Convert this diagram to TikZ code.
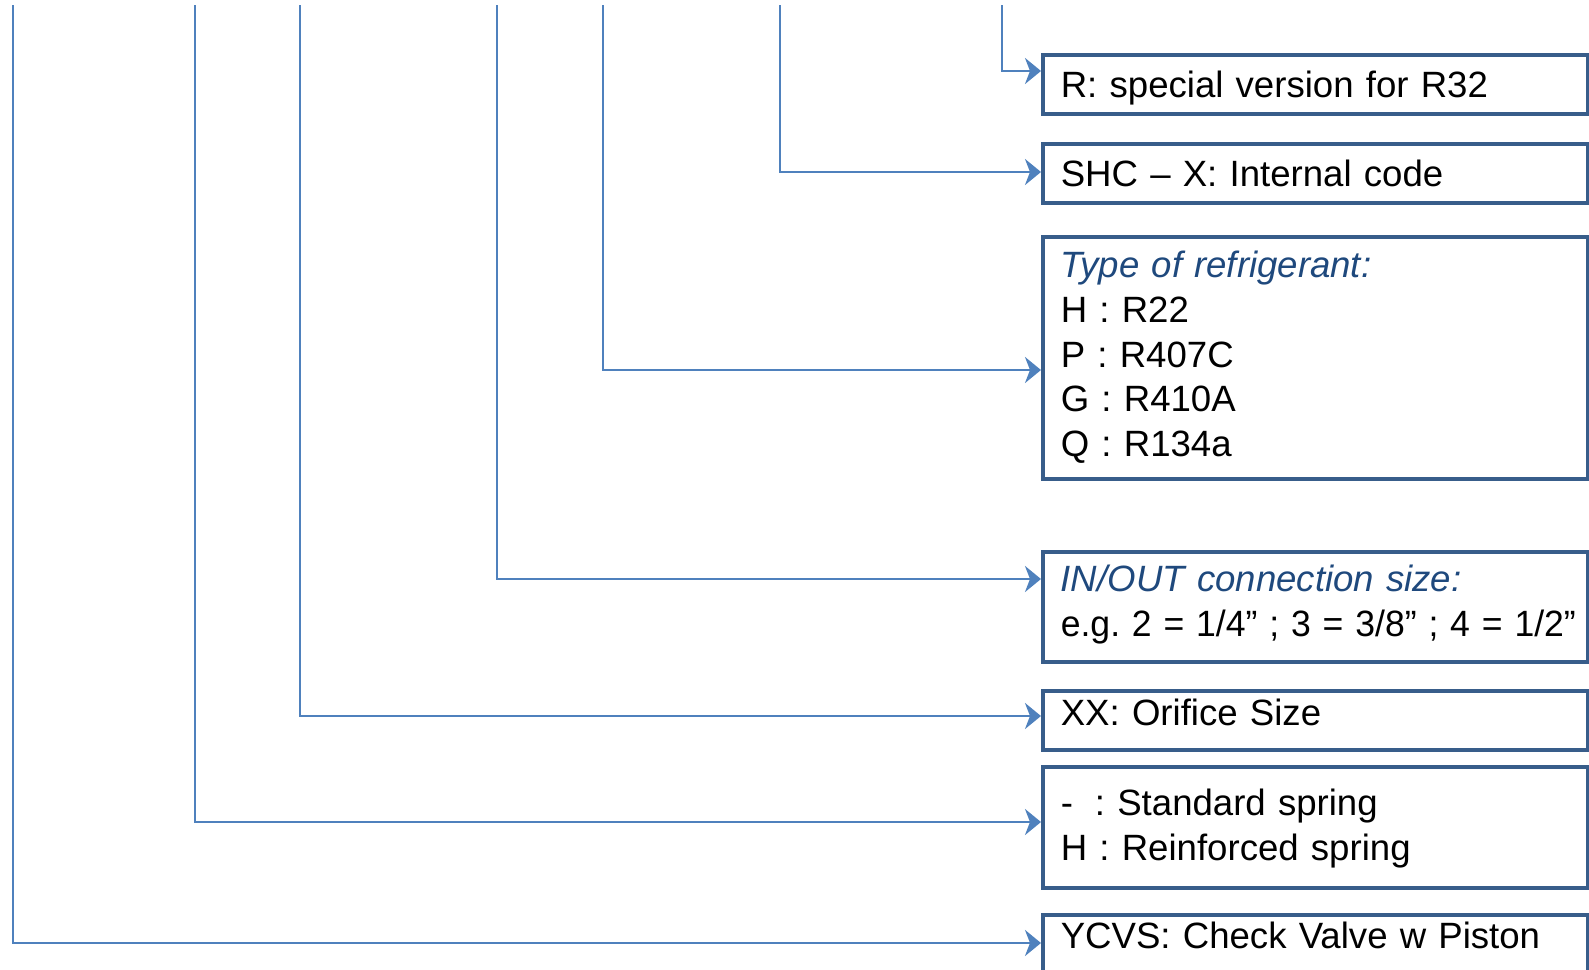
\documentclass[tikz,border=0pt]{standalone}
\usepackage{fontspec}
\setmainfont{Liberation Sans}
\usepackage{xcolor}
\usepackage{graphicx}
\usetikzlibrary{arrows.meta,positioning,calc}
\definecolor{lineblue}{HTML}{4F81BD}
\definecolor{boxblue}{HTML}{385D8A}
\definecolor{headblue}{HTML}{1F497D}
\newcommand{\cathead}[1]{{\color{headblue}\itshape #1}}
\frenchspacing
\tikzset{
    codebox/.style={draw=boxblue, line width=1.8pt, rectangle, anchor=north west,
        text width=254.5pt, inner xsep=9pt, inner ysep=0pt, align=left,
        text height=13.2pt, text depth=0pt, font=\fontsize{18.3}{22.3}\selectfont},
    conn/.style={draw=lineblue, line width=1.35pt, -{Stealth[length=8pt,width=13pt,inset=2.5pt]}}
}

\begin{document}
\begin{tikzpicture}[x=0.5pt, y=-0.5pt]
    \useasboundingbox (0,0) rectangle (1589,969);
    \clip (0,0) rectangle (1589,969);
    % code boxes
    \node[codebox, minimum height=29.5pt] (r32) at (1041,53) {R: special version for R32};
    \node[codebox, minimum height=29.5pt] (shc) at (1041,142) {SHC – X: Internal code};
    \node[codebox, minimum height=121pt, text depth=93.2pt] (refrig) at (1041,235)
        {\cathead{Type of refrigerant:}\\ H : R22\\ P : R407C\\ G : R410A\\ Q : R134a};
    \node[codebox, minimum height=55pt, text depth=28.3pt] (iosize) at (1041,550)
        {\cathead{IN/OUT connection size:}\\ \resizebox{257.5pt}{\height}{e.g. 2 = 1/4” ; 3 = 3/8” ; 4 = 1/2”}};
    \node[codebox, minimum height=29.5pt, text depth=8.5pt] (orifice) at (1041,689) {XX: Orifice Size};
    \node[codebox, minimum height=60.5pt, text depth=24.8pt] (spring) at (1041,765)
        {-\hspace{0.6em}: Standard spring\\ H : Reinforced spring};
    \node[codebox, text height=17pt, text depth=40pt] (ycvs) at (1041,913) {YCVS: Check Valve w Piston};
    % line tops
    \coordinate (top1) at (1002,5);
    \coordinate (top2) at (780,5);
    \coordinate (top3) at (603,5);
    \coordinate (top4) at (497,5);
    \coordinate (top5) at (300,5);
    \coordinate (top6) at (195,5);
    \coordinate (top7) at (13,5);
    % connectors
    \draw[conn] (top1) |- ($(r32.north west)+(0,18)$);
    \draw[conn] (top2) |- ($(shc.north west)+(0,30)$);
    \draw[conn] (top3) |- ($(refrig.north west)+(0,135)$);
    \draw[conn] (top4) |- ($(iosize.north west)+(0,29)$);
    \draw[conn] (top5) |- ($(orifice.north west)+(0,27)$);
    \draw[conn] (top6) |- ($(spring.north west)+(0,57)$);
    \draw[conn] (top7) |- ($(ycvs.north west)+(0,30)$);
\end{tikzpicture}
\end{document}
